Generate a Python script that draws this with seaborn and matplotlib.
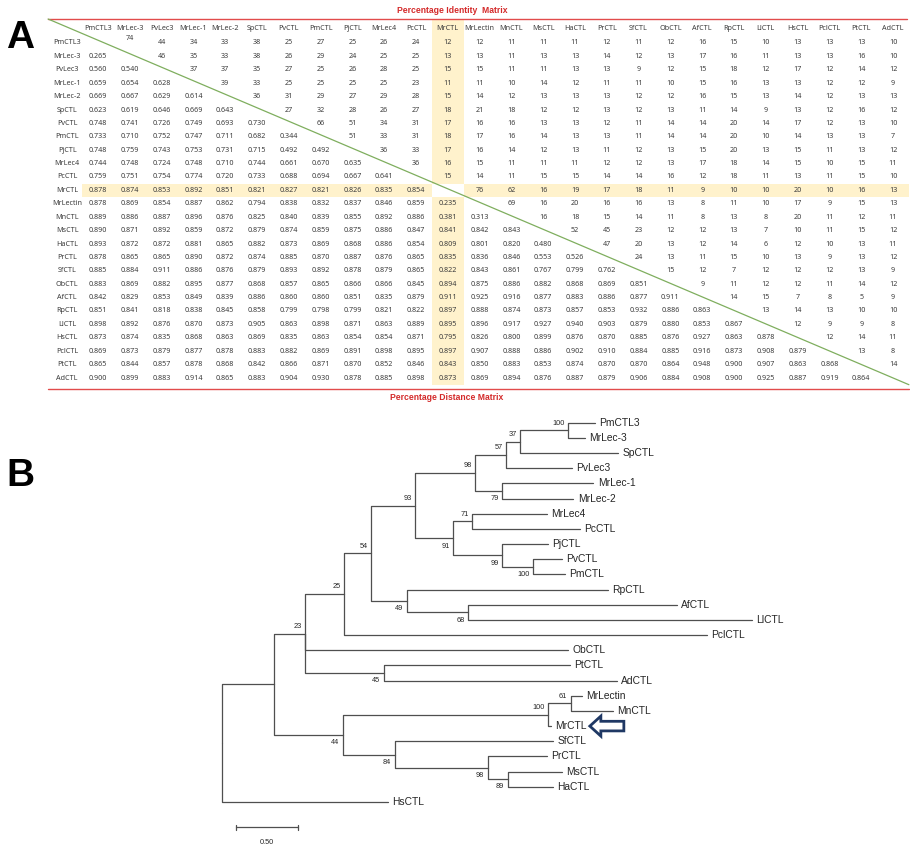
import numpy as np
import pandas as pd
import matplotlib
matplotlib.use("Agg")
import matplotlib.pyplot as plt
import seaborn as sns
from matplotlib.colors import ListedColormap
from matplotlib.patches import Rectangle, Polygon

sns.set_theme(style="white")
plt.rcParams['font.family'] = ['Liberation Sans', 'DejaVu Sans']

# ---------------------------------------------------------------- data
names = ["PmCTL3", "MrLec-3", "PvLec3", "MrLec-1", "MrLec-2", "SpCTL", "PvCTL",
         "PmCTL", "PjCTL", "MrLec4", "PcCTL", "MrCTL", "MrLectin", "MnCTL",
         "MsCTL", "HaCTL", "PrCTL", "SfCTL", "ObCTL", "AfCTL", "RpCTL", "LlCTL",
         "HsCTL", "PclCTL", "PtCTL", "AdCTL"]
highlight = "MrCTL"

# percentage identity (upper triangle, row i holds columns i+1 ...)
identity_upper = [
    [74, 44, 34, 33, 38, 25, 27, 25, 26, 24, 12, 12, 11, 11, 11, 12, 11, 12, 16, 15, 10, 13, 13, 13, 10],
    [46, 35, 33, 38, 26, 29, 24, 25, 25, 13, 13, 11, 13, 13, 14, 12, 13, 17, 16, 11, 13, 13, 16, 10],
    [37, 37, 35, 27, 25, 26, 28, 25, 15, 15, 11, 11, 13, 13, 9, 12, 15, 18, 12, 17, 12, 14, 12],
    [39, 33, 25, 25, 25, 25, 23, 11, 11, 10, 14, 12, 11, 11, 10, 15, 16, 13, 13, 12, 12, 9],
    [36, 31, 29, 27, 29, 28, 15, 14, 12, 13, 13, 13, 12, 12, 16, 15, 13, 14, 12, 13, 13],
    [27, 32, 28, 26, 27, 18, 21, 18, 12, 12, 13, 12, 13, 11, 14, 9, 13, 12, 16, 12],
    [66, 51, 34, 31, 17, 16, 16, 13, 13, 12, 11, 14, 14, 20, 14, 17, 12, 13, 10],
    [51, 33, 31, 18, 17, 16, 14, 13, 13, 11, 14, 14, 20, 10, 14, 13, 13, 7],
    [36, 33, 17, 16, 14, 12, 13, 11, 12, 13, 15, 20, 13, 15, 11, 13, 12],
    [36, 16, 15, 11, 11, 11, 12, 12, 13, 17, 18, 14, 15, 10, 15, 11],
    [15, 14, 11, 15, 15, 14, 14, 16, 12, 18, 11, 13, 11, 15, 10],
    [76, 62, 16, 19, 17, 18, 11, 9, 10, 10, 20, 10, 16, 13],
    [69, 16, 20, 16, 16, 13, 8, 11, 10, 17, 9, 15, 13],
    [16, 18, 15, 14, 11, 8, 13, 8, 20, 11, 12, 11],
    [52, 45, 23, 12, 12, 13, 7, 10, 11, 15, 12],
    [47, 20, 13, 12, 14, 6, 12, 10, 13, 11],
    [24, 13, 11, 15, 10, 13, 9, 13, 12],
    [15, 12, 7, 12, 12, 12, 13, 9],
    [9, 11, 12, 12, 11, 14, 12],
    [14, 15, 7, 8, 5, 9],
    [13, 14, 13, 10, 10],
    [12, 9, 9, 8],
    [12, 14, 11],
    [13, 8],
    [14],
    [],
]

# percentage distance (lower triangle, row i holds columns 0 .. i-1)
distance_lower = [
    [],
    [0.265],
    [0.560, 0.540],
    [0.659, 0.654, 0.628],
    [0.669, 0.667, 0.629, 0.614],
    [0.623, 0.619, 0.646, 0.669, 0.643],
    [0.748, 0.741, 0.726, 0.749, 0.693, 0.730],
    [0.733, 0.710, 0.752, 0.747, 0.711, 0.682, 0.344],
    [0.748, 0.759, 0.743, 0.753, 0.731, 0.715, 0.492, 0.492],
    [0.744, 0.748, 0.724, 0.748, 0.710, 0.744, 0.661, 0.670, 0.635],
    [0.759, 0.751, 0.754, 0.774, 0.720, 0.733, 0.688, 0.694, 0.667, 0.641],
    [0.878, 0.874, 0.853, 0.892, 0.851, 0.821, 0.827, 0.821, 0.826, 0.835, 0.854],
    [0.878, 0.869, 0.854, 0.887, 0.862, 0.794, 0.838, 0.832, 0.837, 0.846, 0.859, 0.235],
    [0.889, 0.886, 0.887, 0.896, 0.876, 0.825, 0.840, 0.839, 0.855, 0.892, 0.886, 0.381, 0.313],
    [0.890, 0.871, 0.892, 0.859, 0.872, 0.879, 0.874, 0.859, 0.875, 0.886, 0.847, 0.841, 0.842, 0.843],
    [0.893, 0.872, 0.872, 0.881, 0.865, 0.882, 0.873, 0.869, 0.868, 0.886, 0.854, 0.809, 0.801, 0.820, 0.480],
    [0.878, 0.865, 0.865, 0.890, 0.872, 0.874, 0.885, 0.870, 0.887, 0.876, 0.865, 0.835, 0.836, 0.846, 0.553, 0.526],
    [0.885, 0.884, 0.911, 0.886, 0.876, 0.879, 0.893, 0.892, 0.878, 0.879, 0.865, 0.822, 0.843, 0.861, 0.767, 0.799, 0.762],
    [0.883, 0.869, 0.882, 0.895, 0.877, 0.868, 0.857, 0.865, 0.866, 0.866, 0.845, 0.894, 0.875, 0.886, 0.882, 0.868, 0.869, 0.851],
    [0.842, 0.829, 0.853, 0.849, 0.839, 0.886, 0.860, 0.860, 0.851, 0.835, 0.879, 0.911, 0.925, 0.916, 0.877, 0.883, 0.886, 0.877, 0.911],
    [0.851, 0.841, 0.818, 0.838, 0.845, 0.858, 0.799, 0.798, 0.799, 0.821, 0.822, 0.897, 0.888, 0.874, 0.873, 0.857, 0.853, 0.932, 0.886, 0.863],
    [0.898, 0.892, 0.876, 0.870, 0.873, 0.905, 0.863, 0.898, 0.871, 0.863, 0.889, 0.895, 0.896, 0.917, 0.927, 0.940, 0.903, 0.879, 0.880, 0.853, 0.867],
    [0.873, 0.874, 0.835, 0.868, 0.863, 0.869, 0.835, 0.863, 0.854, 0.854, 0.871, 0.795, 0.826, 0.800, 0.899, 0.876, 0.870, 0.885, 0.876, 0.927, 0.863, 0.878],
    [0.869, 0.873, 0.879, 0.877, 0.878, 0.883, 0.882, 0.869, 0.891, 0.898, 0.895, 0.897, 0.907, 0.888, 0.886, 0.902, 0.910, 0.884, 0.885, 0.916, 0.873, 0.908, 0.879],
    [0.865, 0.844, 0.857, 0.878, 0.868, 0.842, 0.866, 0.871, 0.870, 0.852, 0.846, 0.843, 0.850, 0.883, 0.853, 0.874, 0.870, 0.870, 0.864, 0.948, 0.900, 0.907, 0.863, 0.868],
    [0.900, 0.899, 0.883, 0.914, 0.865, 0.883, 0.904, 0.930, 0.878, 0.885, 0.898, 0.873, 0.869, 0.894, 0.876, 0.887, 0.879, 0.906, 0.884, 0.908, 0.900, 0.925, 0.887, 0.919, 0.864],
]

# neighbour-joining tree: node, parent, branch length, bootstrap support
tree_node = ["root", "nX", "HsCTL", "n23", "n44", "n25", "ObCTL", "n45",
             "n54", "PclCTL", "n93", "n49", "n98", "n91", "n57", "n79",
             "n37", "PvLec3", "n100a", "SpCTL", "PmCTL3", "MrLec-3",
             "MrLec-1", "MrLec-2", "n71", "n99", "MrLec4", "PcCTL", "PjCTL",
             "n100b", "PvCTL", "PmCTL", "RpCTL", "n68", "AfCTL", "LlCTL",
             "PtCTL", "AdCTL", "n100c", "n84", "n61", "MrCTL", "MrLectin",
             "MnCTL", "SfCTL", "n98b", "PrCTL", "n89", "MsCTL", "HaCTL"]
tree_parent = [None, "root", "root", "nX", "nX", "n23", "n23", "n23",
               "n25", "n25", "n54", "n54", "n93", "n93", "n98", "n98",
               "n57", "n57", "n37", "n37", "n100a", "n100a",
               "n79", "n79", "n91", "n91", "n71", "n71", "n99",
               "n99", "n100b", "n100b", "n49", "n49", "n68", "n68",
               "n45", "n45", "n44", "n44", "n100c", "n100c", "n61",
               "n61", "n84", "n84", "n98b", "n98b", "n89", "n89"]
tree_length = [0.0, 0.419, 1.339, 0.250, 0.556, 0.315, 2.121, 0.637,
               0.218, 2.927, 0.355, 0.290, 0.484, 0.306, 0.250, 0.218,
               0.113, 0.532, 0.387, 0.790, 0.218, 0.137,
               0.734, 0.573, 0.153, 0.395, 0.605, 0.871, 0.371,
               0.250, 0.234, 0.258, 1.621, 0.492, 1.685, 2.290,
               1.500, 1.879, 1.653, 0.419, 0.185, 0.024, 0.089,
               0.339, 1.274, 0.750, 0.476, 0.161, 0.435, 0.363]
tree_support = [None, None, None, 23, 44, 25, None, 45,
                54, None, 93, 49, 98, 91, 57, 79,
                37, None, 100, None, None, None,
                None, None, 71, 99, None, None, None,
                100, None, None, None, 68, None, None,
                None, None, 100, 84, 61, None, None,
                None, None, 98, None, 89, None, None]
scale_len = 0.50

# ---------------------------------------------------------------- figure
W, H, DPI = 910, 848, 100
fig = plt.figure(figsize=(W / DPI, H / DPI), dpi=DPI)
fig.patch.set_facecolor("white")


def px_axes(x0, y0, x1, y1):
    return fig.add_axes([x0 / W, 1 - y1 / H, (x1 - x0) / W, (y1 - y0) / H])


# ---------------------------------------------------------------- panel A
n = len(names)
hi = names.index(highlight)
labels = np.full((n, n), "", dtype=object)
for i, row in enumerate(identity_upper):
    for k, v in enumerate(row):
        labels[i, i + 1 + k] = str(v)
for i, row in enumerate(distance_lower):
    for k, v in enumerate(row):
        labels[i, k] = f"{v:.3f}"

mark = np.zeros((n, n))
mark[hi, :] = 1
mark[:, hi] = 1
mark[hi, hi] = 0
mark_df = pd.DataFrame(mark, index=names, columns=names)

yellow = "#FFF2CC"
txt_col = "#3c3c3c"
mfont = "Noto Sans"
fs = 5.2

ax_m = px_axes(82.1, 36.3, 908.9, 384.7)
sns.heatmap(mark_df, ax=ax_m, cmap=ListedColormap(["white", yellow]),
            vmin=0, vmax=1, cbar=False, annot=labels, fmt="",
            annot_kws=dict(fontsize=fs, color=txt_col, family=mfont),
            xticklabels=False, yticklabels=False, linewidths=0)
ax_m.axis("off")

# the PmCTL3 / MrLec-3 identity sits a little high in the table
for t in ax_m.texts:
    if t.get_text() == "74":
        x, y = t.get_position()
        t.set_position((x, y - 0.3))

# header cell of the highlighted column
ax_m.add_patch(Rectangle((hi, -1.22), 1, 1.22, facecolor=yellow,
                         edgecolor="none", clip_on=False, zorder=0.5))
for j, nm in enumerate(names):
    ax_m.text(j + 0.5, -0.58, nm, ha="center", va="center", fontsize=fs,
              color=txt_col, family=mfont, clip_on=False)
for i, nm in enumerate(names):
    ax_m.text(-0.47, i + 0.5, nm, ha="center", va="center", fontsize=fs,
              color=txt_col, family=mfont, clip_on=False)

red = "#E24B4B"
ax_m.plot([-1.07, 25.95], [-1.29, -1.29], color=red, lw=1.0, clip_on=False)
ax_m.plot([-1.07, 26.0], [26.32, 26.32], color=red, lw=1.0, clip_on=False)
ax_m.plot([-1.07, 26.0], [-1.29, 26.0], color="#7FAE5E", lw=0.9,
          clip_on=False)
ax_m.text(11.63, -1.9, "Percentage Identity  Matrix", ha="center",
          va="center", fontsize=6.2, fontweight="bold", color="#D42A2A",
          clip_on=False)
ax_m.text(11.45, 26.92, "Percentage Distance Matrix", ha="center",
          va="center", fontsize=6.2, fontweight="bold", color="#D42A2A",
          clip_on=False)

fig.text(20 / W, 1 - 48 / H, "A", ha="center", va="baseline", fontsize=28,
         fontweight="bold", color="black")
fig.text(20 / W, 1 - 486 / H, "B", ha="center", va="baseline", fontsize=28,
         fontweight="bold", color="black")

# ---------------------------------------------------------------- panel B
children = {nd: [] for nd in tree_node}
length = dict(zip(tree_node, tree_length))
support = dict(zip(tree_node, tree_support))
parent = dict(zip(tree_node, tree_parent))
for nd, p in zip(tree_node, tree_parent):
    if p is not None:
        children[p].append(nd)

depth, ypos, leaf_order = {}, {}, []


def layout(node, d):
    depth[node] = d
    kids = children[node]
    if not kids:
        ypos[node] = len(leaf_order)
        leaf_order.append(node)
    else:
        for k in kids:
            layout(k, d + length[k])
        ypos[node] = (ypos[kids[0]] + ypos[kids[-1]]) / 2


layout("root", 0.0)

rows = []
for idx, nd in enumerate(tree_node):
    p = parent[nd]
    if p is None:
        continue
    rows += [(idx, depth[p], ypos[p]), (idx, depth[p], ypos[nd]),
             (idx, depth[nd], ypos[nd])]
seg_df = pd.DataFrame(rows, columns=["seg", "x", "y"])

# pixel scale of the tree panel
ux, uy = 124.0, 15.17          # px per unit length, px per leaf
x_root, y_first = 222.0, 422.7
ax_t = px_axes(200, 405, 910, 848)
sns.lineplot(data=seg_df, x="x", y="y", units="seg", estimator=None,
             sort=False, color="#4f4f4f", lw=0.9, ax=ax_t, legend=False)
ax_t.set_xlim((200 - x_root) / ux, (910 - x_root) / ux)
ax_t.set_ylim((848 - y_first) / uy, (405 - y_first) / uy)
ax_t.axis("off")

tcol = "#262626"
for nd in leaf_order:
    ax_t.text(depth[nd] + 4.5 / ux, ypos[nd], nd, ha="left", va="center",
              fontsize=7.4, color=tcol)

for nd in tree_node:
    s = support[nd]
    if s is None:
        continue
    first = children[parent[nd]][0] == nd
    dy = -7.2 / uy if first else 7.8 / uy
    ax_t.text(depth[nd] - 3.5 / ux, ypos[nd] + dy, str(s), ha="right",
              va="center", fontsize=5.3, color=tcol)

# scale bar
sb_x0 = (236 - x_root) / ux
sb_y = (827 - y_first) / uy
ax_t.plot([sb_x0, sb_x0 + scale_len], [sb_y, sb_y], color="#4f4f4f", lw=0.9)
for xx in (sb_x0, sb_x0 + scale_len):
    ax_t.plot([xx, xx], [sb_y - 2.5 / uy, sb_y + 2.5 / uy], color="#4f4f4f",
              lw=0.9)
ax_t.text(sb_x0 + scale_len / 2, (843 - y_first) / uy, f"{scale_len:.2f}",
          ha="center", va="center", fontsize=5.3, color=tcol)

# hollow arrow pointing at the highlighted sequence
tip_x = depth[highlight] + 39 / ux
tip_y = ypos[highlight]
shape = [(0, 0), (11, -10), (11, -4.8), (34, -4.8), (34, 4.8), (11, 4.8),
         (11, 10)]
pts = [(tip_x + dx / ux, tip_y + dy / uy) for dx, dy in shape]
ax_t.add_patch(Polygon(pts, closed=True, facecolor="white",
                       edgecolor="#1F3864", lw=2.0, joinstyle="miter",
                       clip_on=False, zorder=5))

fig.savefig("out.png", dpi=DPI, facecolor="white")
